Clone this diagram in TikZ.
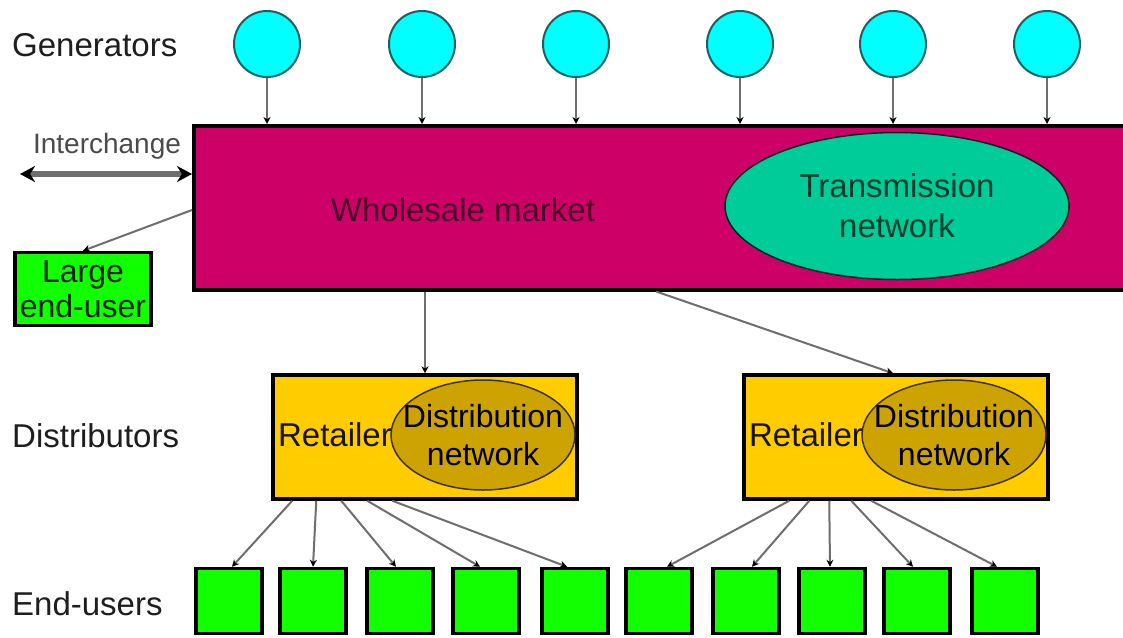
\documentclass[tikz,border=0pt]{standalone}
\usepackage{fontspec}
\setmainfont{Liberation Sans}
\usetikzlibrary{shapes.geometric,arrows.meta,calc}
\definecolor{gencyan}{HTML}{00FFFF}
\definecolor{genedge}{HTML}{1F5F5F}
\definecolor{wsfill}{HTML}{CC0066}
\definecolor{wstext}{HTML}{4A0026}
\definecolor{tnfill}{HTML}{00CC99}
\definecolor{tntext}{HTML}{003D2C}
\definecolor{retfill}{HTML}{FFCC00}
\definecolor{distfill}{HTML}{CCA300}
\definecolor{eufill}{HTML}{11FF00}
\definecolor{connc}{HTML}{6E6E6E}
\definecolor{labc}{HTML}{1E1E1E}
\tikzset{
  bigfont/.style={font=\fontsize{33}{38}\selectfont},
  gen/.style={circle,draw=genedge,line width=2pt,fill=gencyan,minimum size=66pt,inner sep=0pt},
  conn/.style={draw=connc,line width=2pt,-{Stealth[length=7pt,width=7pt,fill=black,color=black]}},
  thickbox/.style={rectangle,draw=black,line width=3.5pt,inner sep=0pt},
  eubox/.style={thickbox,fill=eufill,minimum width=66pt,minimum height=65pt},
  retbox/.style={thickbox,fill=retfill,minimum width=304pt,minimum height=124pt},
  distell/.style={ellipse,draw=black!70!distfill,line width=1.5pt,fill=distfill,inner sep=0pt,minimum width=184pt,minimum height=110pt},
  disttext/.style={align=center,font=\fontsize{32}{38}\selectfont,text=black,inner sep=0pt},
  rowlabel/.style={bigfont,text=labc,anchor=west,inner sep=0pt}
}
\begin{document}
\begin{tikzpicture}[x=1pt,y=-1pt]
\useasboundingbox[fill=white] (0,0) rectangle (1123,637);
% row labels
\node[rowlabel] (lgen) at (12,45) {Generators};
\node[rowlabel] (ldist) at (12,436) {Distributors};
\node[rowlabel] (leus) at (12,604) {End-users};
% wholesale market
\node[thickbox,fill=wsfill,minimum width=936pt,minimum height=164pt,anchor=north west] (ws) at (192,124) {};
\node[bigfont,text=wstext] (wm) at (463,210) {Wholesale market};
\node[ellipse,draw=black!80!tnfill,line width=1.5pt,fill=tnfill,minimum width=344pt,minimum height=147pt,inner sep=0pt] (tn) at (897,206) {};
\node[align=center,bigfont,text=tntext,inner sep=0pt] (tnt) at (tn) {Transmission\\[2pt]network};
% generators
\foreach \i/\x in {1/267,2/422,3/576,4/740,5/893,6/1047}{
  \node[gen] (g\i) at (\x,44) {};
  \draw[conn] (g\i.south) -- (g\i.south |- ws.north);
}
% interchange
\node[font=\fontsize{28}{32}\selectfont,text=labc!80,inner sep=0pt] (ic) at (107,146) {Interchange};
\coordinate (icl) at (20,174);
\draw[draw=connc,line width=6.5pt,{Stealth[length=15pt,width=16pt,fill=black,color=black]}-{Stealth[length=15pt,width=16pt,fill=black,color=black]}] (icl) -- (icl -| ws.west);
% large end-user
\node[thickbox,fill=eufill,minimum width=136pt,minimum height=73pt,align=center,font=\fontsize{32}{35}\selectfont,text=black!85!green] (leu) at (83,289) {Large\\end-user};
\draw[conn] (ws.west |- wm) -- (leu.north);
% retailers
\node[retbox] (r1) at (425,437) {};
\node[retbox] (r2) at (896,437) {};
\node[distell] (d1) at (483,435) {};
\node[distell] (d2) at (954,435) {};
\node[disttext] (d1t) at (d1) {Distribution\\network};
\node[disttext] (d2t) at (d2) {Distribution\\network};
\node[bigfont,text=black!90!retfill,inner sep=0pt] (rt1) at (335,435) {Retailer};
\node[bigfont,text=black!90!retfill,inner sep=0pt] (rt2) at (806,435) {Retailer};
\draw[conn] (r1.north |- ws.south) -- (r1.north);
\draw[conn] ($(ws.south west)!0.494!(ws.south east)$) -- ([xshift=-3pt]r2.north);
% end-users
\foreach \i/\x in {1/229,2/313,3/400,4/486,5/575,6/659,7/746,8/832,9/917,10/1005}{
  \node[eubox] (e\i) at (\x,601) {};
}
\foreach \i/\s/\e in {1/21/3,2/45/0,3/70/-4,4/96/-6,5/121/-8}{
  \draw[conn] ([xshift=\s pt]r1.south west) -- ([xshift=\e pt]e\i.north);
}
\foreach \i/\s/\e in {6/47/8,7/67/6,8/87/-2,9/109/-4,10/129/-8}{
  \draw[conn] ([xshift=\s pt]r2.south west) -- ([xshift=\e pt]e\i.north);
}
\end{tikzpicture}
\end{document}
